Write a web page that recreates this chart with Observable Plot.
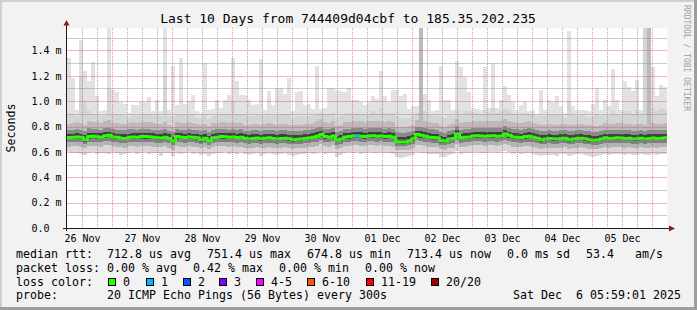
<!DOCTYPE html>
<html><head><meta charset="utf-8">
<script src="https://cdn.jsdelivr.net/npm/d3@7"></script>
<script src="https://cdn.jsdelivr.net/npm/@observablehq/plot@0.6"></script>
<style>
html,body{margin:0;padding:0;background:#f2f2f2;}
#chart{width:697px;height:310px;overflow:hidden;}
svg text{white-space:pre;}
</style>
</head><body><div id="chart"></div>
<script>
// ---- data (values in milliseconds) ----
const startTime = "2025-11-26T06:00:00Z";
const stepMinutes = 96;
const titleText = "Last 10 Days from 744409d04cbf to 185.35.202.235";
const yTicks = [0, 0.2, 0.4, 0.6, 0.8, 1.0, 1.2, 1.4];
const yTickLabels = ["0.0\u00a0\u00a0", "0.2 m", "0.4 m", "0.6 m", "0.8 m", "1.0 m", "1.2 m", "1.4 m"];
const dayLabelTimes = ["2025-11-26T12:00Z","2025-11-27T12:00Z","2025-11-28T12:00Z","2025-11-29T12:00Z","2025-11-30T12:00Z","2025-12-01T12:00Z","2025-12-02T12:00Z","2025-12-03T12:00Z","2025-12-04T12:00Z","2025-12-05T12:00Z"];
const dayLabels = ["26 Nov","27 Nov","28 Nov","29 Nov","30 Nov","01 Dec","02 Dec","03 Dec","04 Dec","05 Dec"];

const medianRtt = [.718,.72,.722,.72,.70,.725,.727,.724,.72,.732,
 .735,.722,.72,.712,.71,.72,.722,.72,.725,.726,
 .724,.72,.716,.714,.72,.71,.688,.725,.72,.718,
 .722,.72,.716,.70,.712,.692,.715,.72,.725,.724,
 .72,.722,.718,.72,.71,.706,.71,.714,.708,.712,
 .715,.71,.706,.71,.712,.708,.70,.703,.706,.71,
 .713,.72,.728,.742,.725,.72,.73,.695,.705,.722,
 .726,.73,.73,.728,.726,.73,.732,.728,.73,.726,
 .728,.72,.685,.683,.682,.69,.708,.744,.735,.728,
 .72,.718,.716,.692,.69,.705,.71,.745,.718,.72,
 .722,.73,.732,.73,.728,.73,.732,.728,.73,.745,
 .735,.722,.72,.718,.725,.728,.72,.712,.70,.705,
 .71,.708,.705,.71,.712,.70,.705,.71,.712,.708,
 .70,.695,.698,.705,.715,.71,.712,.716,.714,.71,
 .712,.705,.708,.712,.706,.71,.714,.71,.712,.716];

const maxRtt = [1.34,1.18,.93,1.48,1.24,1.16,1.31,1.04,.92,.93,
 1.58,1.09,1.07,.99,.98,.91,.97,.97,.99,.99,
 1.03,.92,1.01,.92,1.58,.93,1.28,.97,1.34,.98,
 1.0,1.05,.92,.91,1.30,.93,.94,1.01,.95,1.01,
 1.05,1.34,1.16,1.05,1.05,1.01,.97,.98,1.33,.93,
 1.08,.97,1.10,1.10,1.06,1.18,.92,1.07,1.08,.97,
 .98,.94,1.28,.94,.95,1.10,1.10,1.09,1.08,1.07,
 1.10,1.01,1.01,.99,.97,.99,1.04,1.02,1.24,1.04,
 .99,1.09,1.09,1.04,1.06,.94,.96,.96,1.58,1.06,
 1.01,.92,.93,1.28,1.01,1.01,.93,1.32,1.27,1.19,
 1.07,.95,.94,.93,1.27,.95,1.30,.95,1.01,1.12,
 1.05,.99,.93,.97,.99,.92,.93,.90,1.09,.93,
 1.01,.99,1.04,.96,.91,1.55,.96,.93,.93,.93,
 .92,.98,1.10,.93,1.01,.96,1.25,1.01,.93,1.16,
 1.11,1.08,1.17,.93,1.58,1.58,1.27,1.04,1.13,1.11];

const upper4 = [.9,.9,.88,1.2,1.0,.92,.9,.9,.88,.89,
 1.1,.9,.9,.89,.88,.87,.89,.88,.9,.9,
 .9,.88,.9,.88,1.2,.88,.88,.89,.9,.89,
 .9,.9,.87,.87,.9,.86,.88,.9,.9,.9,
 .9,1.0,.9,.9,.9,.88,.88,.89,.9,.88,
 .9,.88,.89,.9,.9,.9,.87,.88,.88,.88,
 .88,.89,.9,.91,.9,.9,.91,.87,.88,.9,
 .91,.9,.91,.9,.9,.9,.92,.91,.95,.91,
 .9,.91,.88,.87,.87,.87,.88,.91,1.58,.92,
 .9,.88,.89,.88,.87,.89,.88,.93,.9,.92,
 .92,.91,.91,.9,.93,.91,.95,.91,.92,.94,
 .93,.91,.9,.9,.91,.9,.9,.88,.88,.88,
 .9,.89,.9,.89,.87,1.0,.89,.88,.89,.88,
 .87,.88,.9,.88,.89,.89,.92,.9,.89,.92,
 .92,.9,.93,.9,1.58,1.58,.95,.92,.95,.94];

const upper3 = [.82,.828,.835,.83,.815,.84,.835,.832,.826,.845,
 .848,.83,.826,.82,.818,.83,.836,.826,.838,.835,
 .832,.826,.82,.818,.832,.815,.8,.836,.828,.826,
 .832,.828,.82,.81,.818,.805,.826,.83,.838,.836,
 .828,.836,.826,.83,.816,.812,.818,.822,.814,.82,
 .824,.818,.812,.818,.822,.815,.81,.812,.814,.818,
 .822,.83,.842,.856,.838,.83,.845,.805,.815,.832,
 .838,.842,.845,.84,.838,.842,.845,.84,.842,.838,
 .84,.832,.8,.795,.795,.802,.816,.855,1.58,.84,
 .832,.828,.826,.802,.8,.814,.82,.858,.828,.832,
 .835,.842,.845,.842,.84,.842,.845,.84,.842,.858,
 .846,.832,.83,.828,.836,.84,.83,.822,.81,.815,
 .82,.816,.814,.82,.822,.81,.815,.82,.822,.816,
 .81,.805,.808,.815,.826,.82,.822,.828,.826,.82,
 .822,.815,.818,.822,.816,1.58,.826,.82,.822,.828];

const upper2 = [.772,.776,.78,.775,.768,.785,.782,.78,.776,.79,
 .792,.778,.776,.772,.77,.778,.782,.776,.784,.782,
 .78,.776,.772,.77,.78,.768,.755,.782,.776,.775,
 .78,.776,.772,.762,.77,.758,.774,.778,.784,.782,
 .776,.782,.775,.778,.768,.765,.77,.772,.766,.772,
 .774,.77,.765,.77,.772,.768,.762,.764,.766,.77,
 .772,.778,.788,.8,.784,.778,.79,.758,.768,.78,
 .784,.788,.79,.786,.784,.788,.79,.787,.788,.784,
 .786,.78,.755,.75,.75,.756,.768,.8,.796,.786,
 .78,.777,.775,.755,.752,.765,.77,.802,.776,.78,
 .782,.788,.79,.788,.786,.788,.79,.786,.788,.802,
 .792,.78,.778,.776,.782,.786,.778,.772,.762,.766,
 .77,.768,.766,.77,.772,.762,.766,.77,.772,.768,
 .762,.758,.76,.766,.775,.77,.772,.776,.774,.77,
 .772,.766,.768,.772,.768,.77,.775,.77,.772,.776];

const upper1 = [.742,.745,.748,.744,.735,.752,.75,.748,.746,.758,
 .76,.748,.745,.74,.738,.745,.75,.746,.752,.75,
 .75,.746,.742,.74,.748,.738,.72,.75,.746,.744,
 .748,.745,.742,.73,.74,.725,.742,.746,.752,.75,
 .746,.75,.744,.746,.738,.734,.738,.74,.735,.74,
 .742,.738,.734,.738,.74,.736,.73,.732,.734,.738,
 .74,.746,.755,.768,.752,.746,.756,.725,.735,.748,
 .752,.756,.756,.754,.752,.756,.758,.755,.756,.752,
 .754,.748,.72,.716,.715,.722,.735,.768,.762,.754,
 .748,.745,.744,.722,.72,.732,.738,.77,.745,.748,
 .75,.756,.758,.756,.754,.756,.758,.754,.756,.77,
 .76,.748,.746,.744,.75,.754,.746,.74,.73,.734,
 .738,.736,.734,.738,.74,.73,.734,.738,.74,.736,
 .73,.725,.728,.734,.742,.738,.74,.744,.742,.738,
 .74,.734,.736,.74,.735,.738,.742,.738,.74,.744];

const lower1 = [.698,.70,.70,.698,.682,.704,.706,.703,.70,.71,
 .714,.70,.698,.692,.69,.70,.702,.698,.704,.705,
 .703,.70,.696,.694,.70,.69,.672,.704,.70,.698,
 .70,.70,.695,.682,.692,.675,.695,.70,.704,.703,
 .70,.702,.698,.70,.69,.688,.69,.694,.688,.692,
 .695,.69,.688,.69,.692,.688,.682,.685,.687,.69,
 .693,.70,.706,.72,.704,.70,.708,.676,.686,.70,
 .705,.708,.708,.706,.705,.708,.71,.706,.708,.704,
 .706,.70,.668,.666,.665,.672,.688,.72,.712,.706,
 .70,.697,.696,.674,.672,.686,.69,.722,.698,.70,
 .70,.708,.71,.708,.706,.708,.71,.706,.708,.722,
 .712,.70,.698,.697,.704,.706,.70,.692,.682,.686,
 .69,.688,.686,.69,.692,.682,.686,.69,.692,.688,
 .682,.677,.68,.686,.695,.69,.692,.696,.694,.69,
 .692,.686,.688,.692,.687,.69,.694,.69,.692,.696];

const lower2 = [.675,.678,.678,.675,.662,.68,.682,.68,.676,.685,
 .688,.678,.675,.67,.668,.676,.68,.676,.68,.68,
 .68,.676,.672,.67,.678,.668,.652,.68,.676,.674,
 .678,.676,.672,.662,.67,.655,.672,.676,.68,.68,
 .676,.678,.674,.676,.668,.665,.668,.67,.665,.668,
 .672,.668,.665,.668,.67,.665,.66,.662,.664,.668,
 .67,.676,.682,.692,.68,.676,.684,.656,.665,.676,
 .68,.684,.684,.682,.68,.684,.685,.682,.684,.68,
 .682,.676,.648,.646,.645,.652,.665,.69,.685,.682,
 .676,.674,.672,.654,.652,.664,.668,.692,.674,.676,
 .678,.684,.685,.684,.682,.684,.685,.682,.684,.694,
 .686,.676,.675,.674,.68,.682,.676,.668,.66,.664,
 .668,.665,.664,.668,.67,.66,.664,.668,.67,.665,
 .66,.655,.658,.664,.672,.668,.67,.674,.672,.668,
 .67,.664,.666,.67,.665,.668,.672,.668,.67,.674];

const lower3 = [.642,.646,.645,.64,.628,.648,.65,.646,.642,.652,
 .655,.645,.642,.636,.634,.644,.648,.642,.648,.646,
 .646,.642,.638,.635,.645,.634,.618,.648,.642,.64,
 .645,.642,.638,.628,.636,.622,.638,.644,.648,.646,
 .642,.646,.64,.642,.634,.63,.634,.636,.63,.634,
 .638,.634,.63,.634,.636,.632,.626,.628,.63,.634,
 .636,.642,.65,.66,.646,.642,.652,.622,.632,.644,
 .648,.652,.652,.65,.648,.652,.654,.65,.652,.648,
 .65,.642,.615,.612,.612,.618,.632,.658,.652,.648,
 .642,.64,.638,.62,.618,.63,.634,.66,.64,.642,
 .645,.652,.654,.652,.65,.652,.654,.65,.652,.662,
 .654,.642,.64,.64,.646,.65,.642,.634,.626,.63,
 .634,.632,.63,.634,.636,.626,.63,.634,.636,.632,
 .626,.62,.624,.63,.638,.634,.636,.64,.638,.634,
 .636,.63,.632,.636,.63,.634,.638,.634,.636,.64];

const minRtt = [.60,.595,.59,.585,.575,.59,.6,.58,.595,.59,
 .585,.6,.592,.578,.58,.59,.598,.585,.59,.6,
 .582,.595,.59,.57,.588,.592,.565,.594,.585,.59,
 .596,.582,.59,.572,.58,.568,.586,.595,.59,.598,
 .585,.592,.58,.596,.584,.575,.58,.588,.57,.582,
 .59,.58,.576,.584,.59,.572,.566,.575,.58,.586,
 .59,.582,.595,.6,.585,.592,.594,.562,.575,.588,
 .6,.592,.596,.585,.59,.598,.594,.588,.6,.59,
 .592,.585,.56,.555,.556,.565,.578,.6,.59,.592,
 .585,.58,.584,.562,.558,.574,.58,.605,.584,.59,
 .592,.6,.596,.59,.595,.6,.598,.59,.596,.605,
 .596,.585,.588,.58,.592,.594,.585,.576,.566,.572,
 .578,.574,.57,.58,.582,.568,.574,.58,.582,.575,
 .566,.56,.565,.572,.585,.578,.58,.586,.584,.578,
 .58,.572,.576,.58,.574,.578,.584,.578,.58,.586];

const lossStep = [72];
const lossCount = [1];
const lossLabels = ["0","1","2","3","4-5","6-10","11-19","20/20"];
const lossColors = ["#26ff00","#00b8ff","#0059ff","#7e00ff","#ff00ff","#ff5500","#ff0000","#a10000"];

const legendRtt = ["median rtt:", "712.8 us avg", "751.4 us max", "674.8 us min", "713.4 us now", "0.0 ms sd", "53.4", "am/s"];
const legendLoss = ["packet loss:", "0.00 % avg", "0.42 % max", "0.00 % min", "0.00 % now"];
const legendProbe = ["probe:", "20 ICMP Echo Pings (56 Bytes) every 300s", "Sat Dec\u00a0\u00a06 05:59:01 2025"];
const watermark = "RRDTOOL / TOBI OETIKER";
const yLabel = "Seconds";

// ---- build ----
const N = medianRtt.length;
const t0 = Date.parse(startTime);
const stepMs = stepMinutes * 60000;
const tAt = i => new Date(t0 + i * stepMs);
const endTime = tAt(N);
const yMax = 1.577;
const rows = medianRtt.map((m, i) => ({
  t1: tAt(i), t2: tAt(i + 1), med: m, max: maxRtt[i], u4: upper4[i], u3: upper3[i],
  u2: upper2[i], u1: upper1[i], l1: lower1[i], l2: lower2[i], l3: lower3[i], min: minRtt[i]
}));
const lineRows = rows.map(r => ({t: r.t1, v: r.med})).concat([{t: endTime, v: medianRtt[N - 1]}]);
const lossRows = lossStep.map((s, k) => ({t1: tAt(s), t2: tAt(s + 1), v: medianRtt[s], c: lossColors[lossCount[k]]}));

const bands = [
  ["u4", "max", "#e2e2e2"], ["u3", "u4", "#d4d4d4"], ["u2", "u3", "#bababa"], ["u1", "u2", "#8a8a8a"],
  ["l1", "u1", "#404040"], ["l2", "l1", "#808080"], ["l3", "l2", "#b4b4b4"], ["min", "l3", "#d8d8d8"]
];

const midnights = d3.utcDay.range(new Date(t0), endTime);
const minorTimes = d3.utcHour.every(6).range(new Date(t0 + 1), endTime).filter(d => d.getUTCHours() !== 0);
const majorY = yTicks.filter(v => v > 0);
const minorY = [0.1, 0.3, 0.5, 0.7, 0.9, 1.1, 1.3, 1.5];
const mono = "DejaVu Sans Mono";

const plot = Plot.plot({
  width: 697, height: 310,
  marginLeft: 67, marginRight: 30, marginTop: 28, marginBottom: 82,
  style: {fontFamily: mono, fontSize: "10px", background: "transparent", color: "#000", overflow: "visible"},
  x: {type: "utc", domain: [new Date(t0), endTime]},
  y: {domain: [0, yMax]},
  marks: [
    Plot.frame({fill: "#ffffff", stroke: null}),
    ...bands.map(([lo, hi, c]) => Plot.rect(rows, {x1: "t1", x2: "t2", y1: lo, y2: hi, fill: c, clip: true, shapeRendering: "crispEdges"})),
    Plot.line(lineRows, {x: "t", y: "v", curve: "step-after", stroke: lossColors[0], strokeWidth: 3, clip: true}),
    Plot.ruleY(lossRows, {x1: "t1", x2: "t2", y: "v", stroke: "c", strokeWidth: 3}),
    Plot.axisY(yTicks, {tickFormat: (d) => yTickLabels[yTicks.indexOf(d)], tickSize: 0, tickPadding: 6, fontSize: 10, fontFamily: mono, label: null, fill: "#000"}),
    Plot.axisX(dayLabelTimes.map(s => new Date(s)), {tickFormat: (d) => dayLabels[dayLabelTimes.findIndex(s => +new Date(s) === +d)], tickSize: 0, tickPadding: 6, fontSize: 10, fontFamily: mono, label: null, fill: "#000"})
  ]
});

const svg = d3.select(plot);
svg.insert("rect", ":first-child").attr("x", 0).attr("y", 0).attr("width", 697).attr("height", 310).attr("fill", "#f2f2f2");
const deco = svg.append("g").attr("text-anchor", "start");

// grid over the smoke (like rrdtool)
const pLeft = 67, pRight = 667, pTop = 28, pBottom = 228;
const xs = plot.scale("x"), ys = plot.scale("y");
const xPix = t => { const p = xs && xs.apply ? xs.apply(t) : NaN; return isFinite(p) ? p : pLeft + (t - t0) / (+endTime - t0) * (pRight - pLeft); };
const yPix = v => { const p = ys && ys.apply ? ys.apply(v) : NaN; return isFinite(p) ? p : pBottom - v / yMax * (pBottom - pTop); };
function vdots(times, color) {
  let d = "";
  times.forEach(t => { const px = Math.round(xPix(t)); for (let yy = pTop; yy < pBottom; yy += 2) d += `M${px},${yy}h1v1h-1z`; });
  deco.append("path").attr("d", d).attr("fill", color).attr("shape-rendering", "crispEdges");
}
function hlines(vals, color) {
  vals.forEach(v => {
    const py = Math.round(yPix(v));
    deco.append("rect").attr("x", pLeft).attr("y", py).attr("width", pRight - pLeft).attr("height", 1).attr("fill", color);
  });
}
vdots(minorTimes, "rgba(143,143,143,0.75)");
hlines(minorY, "rgba(143,143,143,0.45)");
vdots(midnights, "rgba(222,79,79,0.6)");
hlines(majorY, "rgba(222,79,79,0.4)");

// 3d border
deco.append("rect").attr("x", 0).attr("y", 0).attr("width", 697).attr("height", 2).attr("fill", "#cfcfcf");
deco.append("rect").attr("x", 0).attr("y", 0).attr("width", 2).attr("height", 310).attr("fill", "#cfcfcf");
deco.append("rect").attr("x", 0).attr("y", 307).attr("width", 697).attr("height", 3).attr("fill", "#9e9e9e");
deco.append("rect").attr("x", 694).attr("y", 0).attr("width", 3).attr("height", 310).attr("fill", "#9e9e9e");

// axes lines and arrows
deco.append("rect").attr("x", 63).attr("y", 228).attr("width", 607).attr("height", 1).attr("fill", "#1f1f1f");
deco.append("rect").attr("x", 66).attr("y", 24).attr("width", 1).attr("height", 207).attr("fill", "#1f1f1f");
deco.append("path").attr("d", "M63.5,25.5L69.5,25.5L66.5,20Z").attr("fill", "#8b1a1a");
deco.append("path").attr("d", "M669,225.5L669,231.5L675,228.5Z").attr("fill", "#8b1a1a");

// title, axis label, watermark
deco.append("text").attr("x", 348).attr("y", 23).attr("text-anchor", "middle")
  .attr("font-family", mono).attr("font-size", 13).attr("fill", "#000").text(titleText);
deco.append("text").attr("transform", "translate(15,128) rotate(-90)").attr("text-anchor", "middle")
  .attr("font-family", mono).attr("font-size", 11.6).attr("fill", "#000").text(yLabel);
deco.append("text").attr("transform", "translate(684,5) rotate(90)").attr("text-anchor", "start")
  .attr("font-family", mono).attr("font-size", 8).attr("fill", "#a0a0a0").text(watermark);

// legend
const adv = 7.0;
function put(x, y, s) {
  deco.append("text").attr("x", x).attr("y", y).attr("text-anchor", "start").attr("font-family", mono).attr("font-size", 11.6)
    .attr("fill", "#000").attr("textLength", s.length * adv).attr("lengthAdjust", "spacing").text(s);
}
const rttX = [16, 107, 207, 307, 407, 507, 586, 635];
legendRtt.forEach((s, i) => put(rttX[i], 258.3, s));
const lossX = [16, 107, 193, 279, 365];
legendLoss.forEach((s, i) => put(lossX[i], 272, s));
put(16, 285.7, "loss color:");
const swX = [108, 145.7, 182.7, 219, 256, 307, 366, 430.7];
lossLabels.forEach((s, i) => {
  deco.append("rect").attr("x", Math.round(swX[i]) + 0.5).attr("y", 278.5).attr("width", 7).attr("height", 7)
    .attr("fill", lossColors[i]).attr("stroke", "#000");
  put(Math.round(swX[i]) + 15, 285.7, s);
});
const probeX = [16, 107, 513];
legendProbe.forEach((s, i) => put(probeX[i], 299.4, s));

document.getElementById("chart").appendChild(plot);
</script>
</body></html>
